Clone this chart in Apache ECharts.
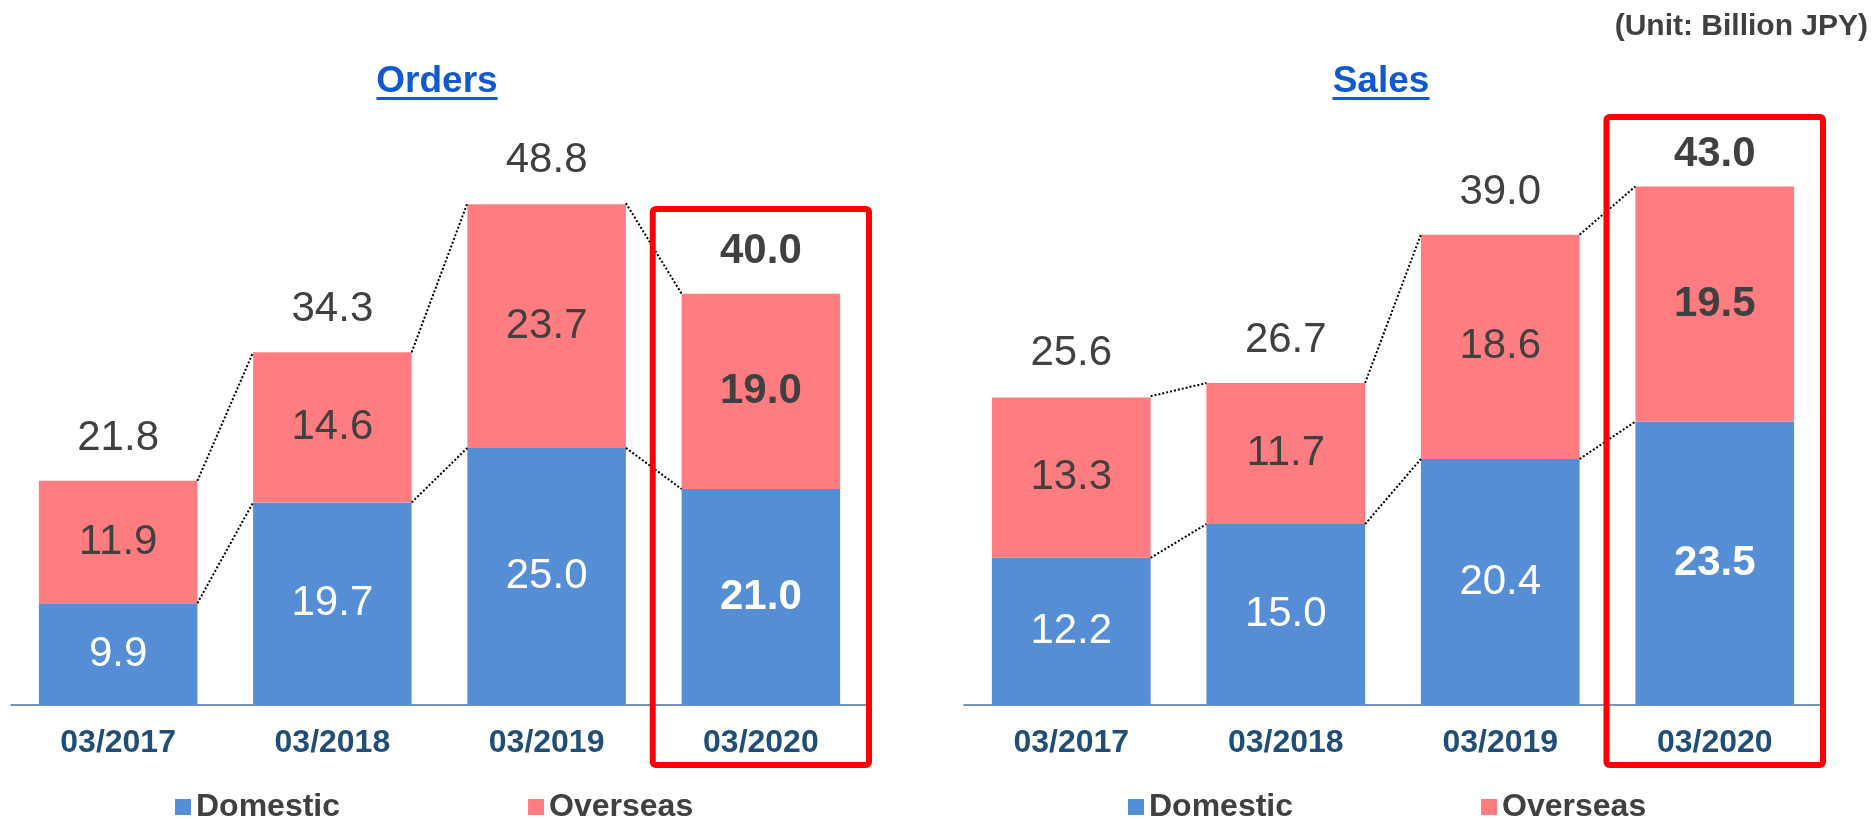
<!DOCTYPE html>
<html>
<head>
<meta charset="utf-8">
<script src="https://cdn.jsdelivr.net/npm/echarts@6/dist/echarts.min.js"></script>
<style>
  html, body { margin: 0; padding: 0; background: #fff; }
  #main { width: 1873px; height: 819px; }
</style>
</head>
<body>
<div id="main"></div>
<script>
// categories + values (Billion JPY)
var years = ['03/2017', '03/2018', '03/2019', '03/2020'];
var ordersDomestic = [9.9, 19.7, 25.0, 21.0];
var ordersOverseas = [11.9, 14.6, 23.7, 19.0];
var ordersTotal = [21.8, 34.3, 48.8, 40.0];
var salesDomestic = [12.2, 15.0, 20.4, 23.5];
var salesOverseas = [13.3, 11.7, 18.6, 19.5];
var salesTotal = [25.6, 26.7, 39.0, 43.0];

var BLUE = '#558ED5';
var PINK = '#FF7C80';
var DARK = '#404040';
var FONT = '"Liberation Sans", Arial, sans-serif';
var GAP = 0.26; // barCategoryGap
var HL = 3;     // highlighted category (03/2020)

// bold the highlighted column's labels
function segData(arr) {
  return arr.map(function (v, i) {
    return i === HL ? { value: v, label: { fontWeight: 'bold' } } : v;
  });
}
function totData(arr, topDist) {
  return arr.map(function (v, i) {
    if (i === HL) return { value: [i, v], label: { fontWeight: 'bold', distance: topDist } };
    return [i, v];
  });
}
function linkData(dom, tot) {
  var out = [];
  for (var i = 0; i < dom.length - 1; i++) {
    out.push([i, dom[i], tot[i], dom[i + 1], tot[i + 1]]);
  }
  return out;
}
// dotted connectors between bar corners
function renderLinks(params, api) {
  var i = api.value(0);
  var band = api.size([1, 0])[0];
  var half = band * (1 - GAP) / 2;
  var sty = { stroke: '#000', lineWidth: 2, lineDash: [2, 2] };
  var a1 = api.coord([i, api.value(1)]), a2 = api.coord([i + 1, api.value(3)]);
  var b1 = api.coord([i, api.value(2)]), b2 = api.coord([i + 1, api.value(4)]);
  return {
    type: 'group',
    children: [
      { type: 'line', shape: { x1: a1[0] + half, y1: a1[1], x2: a2[0] - half, y2: a2[1] }, style: sty },
      { type: 'line', shape: { x1: b1[0] + half, y1: b1[1], x2: b2[0] - half, y2: b2[1] }, style: sty }
    ]
  };
}

function barSeries(name, data, idx, color, labelColor) {
  return {
    name: name, type: 'bar', stack: 's' + idx,
    xAxisIndex: idx, yAxisIndex: idx,
    barCategoryGap: (GAP * 100) + '%',
    itemStyle: { color: color },
    label: { show: true, position: 'inside', color: labelColor, fontSize: 42, fontFamily: FONT,
      formatter: function (p) { return Number(p.value).toFixed(1); } },
    data: segData(data),
    z: 2
  };
}
function totalSeries(data, idx, topDist) {
  return {
    type: 'scatter', xAxisIndex: idx, yAxisIndex: idx,
    symbolSize: 1, itemStyle: { color: 'transparent', opacity: 1 },
    label: { show: true, position: 'top', distance: 21, color: DARK, opacity: 1, fontSize: 42, fontFamily: FONT,
      formatter: function (p) { return p.value[1].toFixed(1); } },
    data: totData(data, topDist),
    silent: true
  };
}
function linkSeries(dom, tot, idx) {
  return {
    type: 'custom', xAxisIndex: idx, yAxisIndex: idx,
    renderItem: renderLinks, data: linkData(dom, tot), silent: true, z: 3
  };
}
function xAxisCfg(idx) {
  return {
    type: 'category', gridIndex: idx, data: years,
    axisLine: { lineStyle: { color: '#4F6F9F', width: 1.5 } },
    axisTick: { show: false },
    axisLabel: { margin: 22, color: '#1F4E79', fontSize: 32, fontWeight: 'bold', fontFamily: FONT }
  };
}
function yAxisCfg(idx, max) {
  return { type: 'value', gridIndex: idx, min: 0, max: max, show: false, splitLine: { show: false } };
}
function legendCfg(left) {
  return {
    data: ['Domestic', 'Overseas'], left: left, top: 786,
    icon: 'rect', itemWidth: 16, itemHeight: 16, itemGap: 188,
    textStyle: { fontSize: 32, fontWeight: 'bold', color: DARK, fontFamily: FONT },
    selectedMode: false
  };
}
function titleGraphic(text, x, w) {
  return [
    { type: 'text', x: x, y: 82, style: { text: text, align: 'center', verticalAlign: 'middle',
      font: 'bold 37px ' + FONT, fill: '#1258CF' } },
    { type: 'rect', shape: { x: x - w / 2, y: 97, width: w, height: 3 }, style: { fill: '#1258CF' } }
  ];
}

var myChart = echarts.init(document.getElementById('main'));
var option = {
  animation: false,
  backgroundColor: '#fff',
  grid: [
    { left: 11, width: 857, top: 88, bottom: 114 },
    { left: 964, width: 858, top: 102, bottom: 114 }
  ],
  xAxis: [xAxisCfg(0), xAxisCfg(1)],
  yAxis: [yAxisCfg(0, 60), yAxisCfg(1, 50)],
  legend: [legendCfg(170), legendCfg(1123)],
  series: [
    barSeries('Domestic', ordersDomestic, 0, BLUE, '#fff'),
    barSeries('Overseas', ordersOverseas, 0, PINK, DARK),
    totalSeries(ordersTotal, 0, 21),
    linkSeries(ordersDomestic, ordersTotal, 0),
    barSeries('Domestic', salesDomestic, 1, BLUE, '#fff'),
    barSeries('Overseas', salesOverseas, 1, PINK, DARK),
    totalSeries(salesTotal, 1, 10),
    linkSeries(salesDomestic, salesTotal, 1)
  ],
  graphic: [
    { type: 'text', right: 5, top: 12, style: { text: '(Unit: Billion JPY)', font: 'bold 30px ' + FONT, fill: DARK } }
  ].concat(titleGraphic('Orders', 437, 121)).concat(titleGraphic('Sales', 1381, 97))
};
myChart.setOption(option);

// red highlight boxes around 03/2020, x from the category axis
function hlBox(idx, top) {
  var c = myChart.convertToPixel({ xAxisIndex: idx }, years[HL]);
  var p = myChart.convertToPixel({ xAxisIndex: idx }, years[HL - 1]);
  var band = c - p;
  return {
    type: 'rect', z: 10,
    shape: { x: c - band / 2 - 1, y: top, width: band + 2, height: 765 - top, r: 3 },
    style: { fill: 'none', stroke: '#FF0000', lineWidth: 6 }
  };
}
var g = option.graphic.concat([hlBox(0, 209), hlBox(1, 117)]);
myChart.setOption({ graphic: g }, { replaceMerge: ['graphic'] });
</script>
</body>
</html>
